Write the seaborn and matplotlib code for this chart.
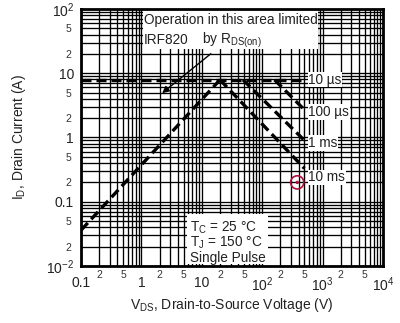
import matplotlib
matplotlib.use("Agg")
import numpy as np
import pandas as pd
import seaborn as sns
import matplotlib.pyplot as plt
from matplotlib.patches import Rectangle
from matplotlib.ticker import FixedLocator, FixedFormatter

# limit lines (V, A)
rds_v = [0.1, 20]
rds_i = [0.036, 7.9]
us10_v = [0.1, 500]
us10_i = [7.9, 7.9]
us100_v = [160, 500]
us100_i = [7.9, 2.7]
ms1_v = [48, 500]
ms1_i = [7.9, 0.9]
ms10_v = [20, 500]
ms10_i = [7.9, 0.33]
vmax_v = [500, 500]
vmax_i = [7.9, 0.01]

marker_v = [380]
marker_i = [0.2]

pulse_labels = ["10 µs", "100 µs", "1 ms", "10 ms"]
pulse_label_i = [7.9, 2.5, 0.82, 0.24]

x_major = [0.1, 1, 10, 100, 1000, 10000]
x_major_labels = ["0.1", "1", "10", "$10^2$", "$10^3$", "$10^4$"]
y_major = [0.01, 0.1, 1, 10, 100]
y_major_labels = ["$10^{-2}$", "0.1", "1", "10", "$10^2$"]

sns.set_style("white")
plt.rcParams["font.family"] = ["Liberation Sans", "DejaVu Sans"]
plt.rcParams["mathtext.default"] = "regular"

fig = plt.figure(figsize=(4.0, 3.23), dpi=100)
ax = fig.add_axes([0.2025, 0.1765, 0.755, 0.7957])
ax.set_xscale("log")
ax.set_yscale("log")
ax.set_xlim(0.1, 1e4)
ax.set_ylim(0.01, 100)

# dense grid: every 1..9 in each decade
def decade_ticks(lo, hi):
    out = []
    d = lo
    while d < hi:
        out += [d * k for k in range(2, 10)]
        d *= 10
    return out

def minor_labels(ts):
    labs = []
    for t in ts:
        m = int(round(t / 10 ** np.floor(np.log10(t) + 1e-9)))
        labs.append(str(m) if m in (2, 5) else "")
    return labs

xminor = decade_ticks(0.1, 1e4)
yminor = decade_ticks(0.01, 100)
ax.xaxis.set_major_locator(FixedLocator(x_major))
ax.xaxis.set_major_formatter(FixedFormatter(x_major_labels))
ax.yaxis.set_major_locator(FixedLocator(y_major))
ax.yaxis.set_major_formatter(FixedFormatter(y_major_labels))
ax.xaxis.set_minor_locator(FixedLocator(xminor))
ax.yaxis.set_minor_locator(FixedLocator(yminor))
ax.xaxis.set_minor_formatter(FixedFormatter(minor_labels(xminor)))
ax.yaxis.set_minor_formatter(FixedFormatter(minor_labels(yminor)))

ax.grid(which="both", color="black", lw=0.95, zorder=0)
ax.set_axisbelow(True)
ax.tick_params(which="both", length=0)
ax.tick_params(which="major", labelsize=10, colors="#222222")
ax.tick_params(axis="x", which="major", pad=7)
ax.tick_params(axis="x", which="minor", labelsize=7.5, pad=3, colors="#333333")
ax.tick_params(axis="y", which="major", pad=5)
ax.tick_params(axis="y", which="minor", labelsize=7.5, pad=7, colors="#333333")
for s in ax.spines.values():
    s.set_linewidth(2.0)
    s.set_color("black")
    s.set_zorder(5)

# dashed SOA lines
dash = dict(color="black", lw=2.4, linestyle=(0, (3, 1.5)), sort=False, ax=ax, zorder=3)
for xv, yv in [(rds_v, rds_i), (us10_v, us10_i), (us100_v, us100_i),
               (ms1_v, ms1_i), (ms10_v, ms10_i), (vmax_v, vmax_i)]:
    sns.lineplot(x=xv, y=yv, **dash)

# white label boxes
ax.add_patch(Rectangle((1.06, 23.8), 830 - 1.06, 100 - 23.8, facecolor="white",
                       edgecolor="none", zorder=4))
ax.add_patch(Rectangle((5.7, 0.0107), 125 - 5.7, 0.0646 - 0.0107, facecolor="white",
                       edgecolor="none", zorder=4))

tk = dict(fontsize=9.8, color="#222222", zorder=6, va="center", ha="left")
ax.text(1.1, 67, "Operation in this area limited", **tk)
ax.text(1.1, 33, "IRF820", **tk)
ax.text(10, 33, "by R$_{DS(on)}$", **tk)
ax.text(6.4, 0.039, "T$_C$ = 25 °C", **tk)
ax.text(6.4, 0.0228, "T$_J$ = 150 °C", **tk)
ax.text(6.4, 0.0133, "Single Pulse", **tk)

for lab, yi in zip(pulse_labels, pulse_label_i):
    ax.text(580, yi, lab, fontsize=9.8, color="#222222", va="center", ha="left", zorder=6,
            bbox=dict(facecolor="white", edgecolor="none", pad=0.5))

ax.annotate("", xy=(2.03, 4.6), xytext=(15.3, 21.4), zorder=6,
            arrowprops=dict(arrowstyle="-|>", color="black", lw=1.0, mutation_scale=10))

sns.scatterplot(x=marker_v, y=marker_i, ax=ax, s=90, marker="o", facecolor="none",
                edgecolor="#b0103a", linewidth=1.2, zorder=7)
sns.scatterplot(x=marker_v, y=marker_i, ax=ax, s=6, color="#b0103a", edgecolor="none", zorder=7)

ax.set_xlabel("V$_{DS}$, Drain-to-Source Voltage (V)", fontsize=10, color="#222222", labelpad=1)
ax.set_ylabel("I$_D$, Drain Current (A)", fontsize=10, color="#222222", labelpad=13)

fig.savefig("out.png", dpi=100)
